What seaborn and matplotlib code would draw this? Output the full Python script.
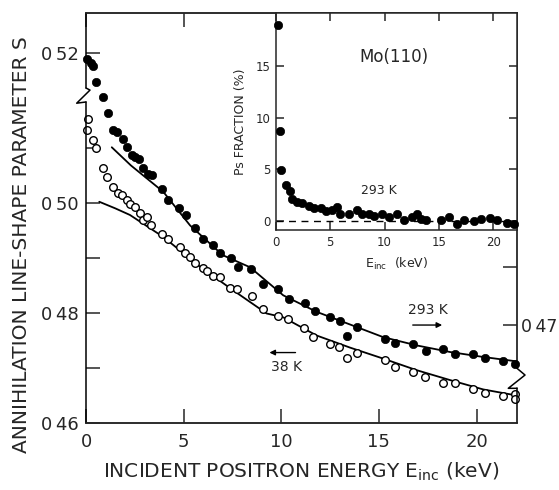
import numpy as np
import pandas as pd
import matplotlib
matplotlib.use("Agg")
import matplotlib.pyplot as plt
import seaborn as sns

# ---------------- data ----------------
# 293 K (filled circles), main panel
e_293 = [0.07, 0.24, 0.34, 0.51, 0.89, 1.14, 1.40, 1.60, 1.88, 2.08, 2.34, 2.51, 2.73, 2.90,
         3.19, 3.36, 3.88, 4.21, 4.76, 5.12, 5.58, 5.98, 6.49, 6.86, 7.41, 7.77, 8.45, 9.05,
         9.85, 10.41, 11.21, 11.73, 12.49, 13.01, 13.35, 13.86, 15.31, 15.82, 16.76, 17.41,
         18.26, 18.89, 19.80, 20.43, 21.37, 21.97]
s_293 = [0.5262, 0.5255, 0.5249, 0.5220, 0.5193, 0.5164, 0.5133, 0.5129, 0.5116, 0.5101,
         0.5087, 0.5084, 0.5079, 0.5063, 0.5053, 0.5050, 0.5026, 0.5005, 0.4990, 0.4978,
         0.4955, 0.4935, 0.4923, 0.4908, 0.4899, 0.4884, 0.4879, 0.4853, 0.4844, 0.4826,
         0.4818, 0.4803, 0.4793, 0.4785, 0.4758, 0.4775, 0.4753, 0.4746, 0.4744, 0.4730,
         0.4734, 0.4726, 0.4726, 0.4718, 0.4712, 0.4708]

# 38 K (open circles), main panel
e_38 = [0.12, 0.07, 0.34, 0.50, 0.86, 1.09, 1.40, 1.62, 1.83, 2.08, 2.25, 2.51, 2.76, 2.93,
        3.11, 3.33, 3.88, 4.21, 4.81, 5.07, 5.33, 5.58, 5.98, 6.18, 6.49, 6.86, 7.37, 7.72,
        8.48, 9.08, 9.85, 10.36, 11.16, 11.64, 12.49, 12.97, 13.35, 13.86, 15.31, 15.82,
        16.76, 17.36, 18.26, 18.89, 19.80, 20.43, 21.34, 21.97, 21.97]
s_38 = [0.5153, 0.5133, 0.5115, 0.5099, 0.5063, 0.5047, 0.5028, 0.5018, 0.5014, 0.5006,
        0.4998, 0.4993, 0.4982, 0.4969, 0.4975, 0.4959, 0.4944, 0.4935, 0.4920, 0.4908,
        0.4901, 0.4891, 0.4881, 0.4876, 0.4867, 0.4865, 0.4846, 0.4844, 0.4831, 0.4807,
        0.4795, 0.4789, 0.4773, 0.4756, 0.4743, 0.4738, 0.4718, 0.4727, 0.4714, 0.4701,
        0.4692, 0.4684, 0.4673, 0.4672, 0.4661, 0.4655, 0.4649, 0.4652, 0.4644]

# fitted curves
fit_e_293 = [1.32, 2.3, 3.96, 5.33, 7.0, 8.40, 10.10, 11.81, 13.52, 15.22, 16.93, 18.64, 20.34, 22.05]
fit_s_293 = [0.5101, 0.5068, 0.5020, 0.4959, 0.4905, 0.4883, 0.4832, 0.4802, 0.4779, 0.4756,
             0.4741, 0.4729, 0.4720, 0.4712]
fit_e_38 = [0.68, 1.5, 2.25, 3.96, 5.84, 7.54, 9.25, 10.10, 11.81, 13.52, 15.22, 16.93, 18.64,
            20.34, 22.05]
fit_s_38 = [0.5002, 0.4990, 0.4978, 0.4938, 0.4884, 0.4841, 0.4799, 0.4792, 0.4759, 0.4737,
            0.4717, 0.4696, 0.4678, 0.4661, 0.4650]

# inset: Ps fraction (%) at 293 K
ps_e = [0.20, 0.41, 0.48, 0.88, 1.27, 1.49, 1.95, 2.41, 3.02, 3.48, 4.10, 4.65, 5.17, 5.58,
        5.94, 6.70, 7.42, 7.94, 8.56, 9.02, 9.79, 10.40, 11.17, 11.79, 12.56, 13.02, 13.32,
        13.78, 15.16, 15.93, 16.70, 17.31, 18.23, 18.85, 19.71, 20.39, 21.31, 21.92]
ps_frac = [19.0, 8.7, 4.9, 3.5, 2.9, 2.1, 1.8, 1.7, 1.4, 1.2, 1.2, 0.9, 1.0, 1.3, 0.7, 0.7,
           1.0, 0.7, 0.7, 0.5, 0.7, 0.4, 0.7, 0.1, 0.4, 0.7, 0.2, 0.1, 0.1, 0.4, -0.3, 0.1,
           0.0, 0.2, 0.3, 0.1, -0.2, -0.3]

TS = "\u2009"
left_ticks = [0.46, 0.47, 0.48, 0.49, 0.50, 0.51, 0.5272]
left_labels = ["0" + TS + "46", "", "0" + TS + "48", "", "0" + TS + "50", "", "0" + TS + "52"]
right_ticks = [0.4883, 0.4778]
right_labels = ["", "0" + TS + "47"]
x_ticks = [0, 5, 10, 15, 20]
inset_yticks = [0, 5, 10, 15]

# ---------------- figure ----------------
sns.set_theme(style="ticks")
plt.rcParams["font.family"] = ["DejaVu Sans"]
plt.rcParams["axes.linewidth"] = 1.1
plt.rcParams["xtick.major.width"] = 1.1
plt.rcParams["ytick.major.width"] = 1.1

fig = plt.figure(figsize=(5.59, 4.90), dpi=100)
W, H = 559, 490
L, R, T, B = 86, 517, 13, 423
ax = fig.add_axes([L / W, 1 - B / H, (R - L) / W, (B - T) / H])

df293 = pd.DataFrame({"E": e_293, "S": s_293})
df38 = pd.DataFrame({"E": e_38, "S": s_38})
sns.lineplot(x=fit_e_293, y=fit_s_293, ax=ax, color="black", lw=1.3, zorder=2)
sns.lineplot(x=fit_e_38, y=fit_s_38, ax=ax, color="black", lw=1.3, zorder=2)
sns.scatterplot(data=df293, x="E", y="S", ax=ax, color="black", edgecolor="black",
                s=36, linewidth=0.5, zorder=3, clip_on=False)
sns.scatterplot(data=df38, x="E", y="S", ax=ax, facecolor="white", edgecolor="black",
                s=30, linewidth=1.0, zorder=3, clip_on=False)

ax.set_xlim(0, 22.07)
ax.set_ylim(0.46, 0.5345)
ax.set_xticks(x_ticks)
ax.set_xticklabels([str(v) for v in x_ticks], fontsize=13)
ax.set_yticks(left_ticks)
ax.set_yticklabels(left_labels, fontsize=13)
ax.tick_params(axis="both", direction="in", length=10, top=True, right=False)
ax.tick_params(axis="x", pad=7)
ax.tick_params(axis="y", pad=5)
ax.set_xlabel("INCIDENT POSITRON ENERGY E$_{\\mathregular{inc}}$ (keV)", fontsize=14.5)
ax.set_ylabel("ANNIHILATION LINE-SHAPE PARAMETER S", fontsize=14.5)
ax.xaxis.set_label_coords(0.498, -0.092)
ax.yaxis.set_label_coords(-0.127, 0.434)

# right axis ticks (offset scale for 293 K data)
axr = ax.twinx()
axr.set_ylim(ax.get_ylim())
axr.set_yticks(right_ticks)
axr.set_yticklabels(right_labels, fontsize=12.5)
axr.tick_params(axis="y", direction="in", length=10, pad=3)
axr.grid(False)

# spine breaks
for sp in ["left", "right"]:
    ax.spines[sp].set_visible(False)
    axr.spines[sp].set_visible(False)
tr = ax.transAxes
kw = dict(transform=tr, color="black", lw=1.1, clip_on=False, zorder=5)
ax.plot([0, 0], [0, 0.783], **kw)
ax.plot([0, 0.0093, -0.0216, 0, 0], [0.817, 0.812, 0.780, 0.783, 0.783], **kw)
ax.plot([0, 0], [0.817, 1], **kw)
ax.plot([1, 1], [0, 0.0846], **kw)
ax.plot([1, 1.0186, 0.9798, 1], [0.1334, 0.117, 0.0846, 0.0846], **kw)
ax.plot([1, 1], [0.1334, 1], **kw)

# annotations
ax.text(17.53, 0.4805, "293 K", fontsize=10, ha="center", va="center")
ax.annotate("", xy=(18.38, 0.4778), xytext=(16.59, 0.4778),
            arrowprops=dict(arrowstyle="-|>", color="black", lw=1.0, mutation_scale=8))
ax.text(10.27, 0.4702, "38 K", fontsize=10, ha="center", va="center")
ax.annotate("", xy=(9.25, 0.4728), xytext=(10.87, 0.4728),
            arrowprops=dict(arrowstyle="-|>", color="black", lw=1.0, mutation_scale=8))

# ---------------- inset ----------------
IL, IR, IT, IB = 276, 517, 13, 230
axi = fig.add_axes([IL / W, 1 - IB / H, (IR - IL) / W, (IB - IT) / H], zorder=4)
axi.set_facecolor("white")
dfps = pd.DataFrame({"E": ps_e, "P": ps_frac})
axi.axhline(0, color="black", lw=1.0, ls=(0, (5, 4)), zorder=1)
sns.scatterplot(data=dfps, x="E", y="P", ax=axi, color="black", edgecolor="black",
                s=36, linewidth=0.5, zorder=3, clip_on=False)
axi.set_xlim(0, 22.2)
axi.set_ylim(-0.9, 20.17)
axi.set_xticks(x_ticks)
axi.set_xticklabels([str(v) for v in x_ticks], fontsize=8.5)
axi.set_yticks(inset_yticks)
axi.set_yticklabels([str(v) for v in inset_yticks], fontsize=8.5)
axi.tick_params(axis="both", direction="in", length=6, top=True, right=True, pad=4)
axi.set_xlabel("E$_{\\mathregular{inc}}$  (keV)", fontsize=9, labelpad=5)
axi.set_ylabel("Ps FRACTION (%)", fontsize=9, labelpad=6)
for sp in axi.spines.values():
    sp.set_linewidth(1.1)
axi.text(10.86, 15.9, "Mo(110)", fontsize=12, ha="center", va="center")
axi.text(9.47, 2.98, "293 K", fontsize=9, ha="center", va="center")

fig.savefig("out.png", dpi=100)
